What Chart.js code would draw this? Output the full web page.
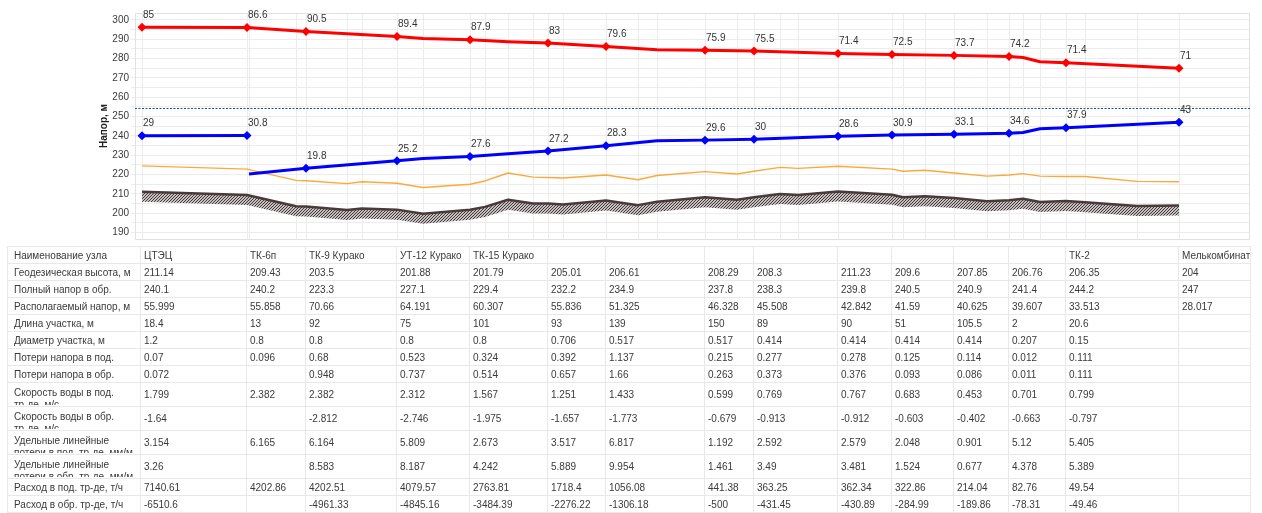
<!DOCTYPE html>
<html lang="ru">
<head>
<meta charset="utf-8">
<title>Пьезометрический график</title>
<script src="https://cdn.jsdelivr.net/npm/chart.js@4.4.1/dist/chart.umd.min.js"></script>
<style>
  html, body { margin: 0; padding: 0; background: #fff; }
  body { width: 1262px; height: 513px; overflow: hidden; position: relative; font-family: 'Liberation Sans', Arial, sans-serif; }
  #chart-wrap { position: absolute; left: 0; top: 0; width: 1262px; height: 247px; }
  #piezo-table { position: absolute; left: 7px; top: 246px; border-collapse: collapse; table-layout: fixed; font-size: 10px; color: #3a3a3a; }
  #piezo-table td { border: 1px solid #e8e8e8; padding: 0 0 0 3px; height: 16px; white-space: nowrap; overflow: hidden; vertical-align: middle; }
  #piezo-table td.label { padding-left: 6px; }
  #piezo-table tr.tall td { height: 23px; }
  #piezo-table tr.tall td.label .clip { height: 21px; overflow: hidden; white-space: normal; line-height: 12px; padding-top: 3px; box-sizing: border-box; }
</style>
</head>
<body>
<div id="chart-wrap"><canvas id="piezo" width="1262" height="247"></canvas></div>
<table id="piezo-table"><colgroup id="cols"></colgroup><tbody id="rows"></tbody></table>
<script>
// node positions along the route (first node = 0)
const nodePos = [0, 105, 164, 255, 328, 406, 464, 563, 612, 696, 750, 812, 867, 924, 1037];
const nodeNames = ['ЦТЭЦ', 'ТК-6п', 'ТК-9 Курако', 'УТ-12 Курако', 'ТК-15 Курако', '', '', '', '', '', '', '', '', 'ТК-2', 'Мелькомбинат'];

// pressure labels above the markers, m
const supplyPressure = [85, 86.6, 90.5, 89.4, 87.9, 83, 79.6, 75.9, 75.5, 71.4, 72.5, 73.7, 74.2, 71.4, 71];
const returnPressure = [29, 30.8, 19.8, 25.2, 27.6, 27.2, 28.3, 29.6, 30, 28.6, 30.9, 33.1, 34.6, 37.9, 43];

// full head in supply pipe
const supplyPos = [0, 105, 164, 255, 281, 328, 366, 406, 464, 515, 563, 612, 696, 750, 812, 867, 881, 898, 924, 1037];
const supplyHead = [296.1, 296.0, 294.0, 291.3, 290.3, 289.7, 288.7, 288.0, 286.2, 284.5, 284.2, 283.8, 282.6, 282.1, 281.6, 281.0, 280.5, 278.3, 277.8, 275.0];

// full head in return pipe (gap after ТК-6п)
const returnPos = [0, 105, 106, 107, 164, 255, 281, 328, 366, 406, 464, 515, 563, 612, 696, 750, 812, 867, 881, 898, 924, 1037];
const returnHeadLine = [240.1, 240.2, null, 220.3, 223.3, 227.1, 228.3, 229.4, 230.7, 232.2, 234.9, 237.5, 237.8, 238.3, 239.8, 240.5, 240.9, 241.4, 241.7, 243.7, 244.2, 247];

// ground profile and building tops
const groundPos = [0, 105, 154, 164, 205, 220, 255, 281, 328, 343, 366, 391, 406, 421, 464, 496, 515, 563, 595, 612, 638, 656, 696, 750, 761, 783, 812, 845, 867, 881, 898, 924, 943, 995, 1037];
const groundLevel = [211.14, 209.43, 203.6, 203.5, 201.7, 202.5, 201.88, 199.7, 201.79, 203.3, 207.0, 205.0, 205.01, 204.5, 206.61, 204.2, 206.0, 208.29, 207.0, 208.3, 210.0, 209.5, 211.23, 209.6, 208.3, 208.8, 207.85, 206.2, 206.76, 207.5, 205.8, 206.35, 205.7, 203.8, 204];
const buildingLevel = [224.5, 222.8, 217.0, 216.8, 215.3, 216.3, 215.5, 213.3, 215.0, 216.7, 220.8, 218.7, 218.5, 218.2, 219.8, 217.3, 219.5, 221.5, 220.3, 221.7, 223.7, 223.2, 224.3, 222.8, 221.7, 222.2, 220.8, 219.2, 219.8, 220.5, 219.2, 219.0, 219.0, 216.5, 216.3];

const staticHead = 254.5;
const headTicks = [190, 200, 210, 220, 230, 240, 250, 260, 270, 280, 290, 300];

// table rows
const geoHeight = [211.14, 209.43, 203.5, 201.88, 201.79, 205.01, 206.61, 208.29, 208.3, 211.23, 209.6, 207.85, 206.76, 206.35, 204];
const returnHead = [240.1, 240.2, 223.3, 227.1, 229.4, 232.2, 234.9, 237.8, 238.3, 239.8, 240.5, 240.9, 241.4, 244.2, 247];
const availHead = [55.999, 55.858, 70.66, 64.191, 60.307, 55.836, 51.325, 46.328, 45.508, 42.842, 41.59, 40.625, 39.607, 33.513, 28.017];
const sectionLength = [18.4, 13, 92, 75, 101, 93, 139, 150, 89, 90, 51, 105.5, 2, 20.6, null];
const sectionDiam = [1.2, 0.8, 0.8, 0.8, 0.8, 0.706, 0.517, 0.517, 0.414, 0.414, 0.414, 0.414, 0.207, 0.15, null];
const lossSupply = [0.07, 0.096, 0.68, 0.523, 0.324, 0.392, 1.137, 0.215, 0.277, 0.278, 0.125, 0.114, 0.012, 0.111, null];
const lossReturn = [0.072, null, 0.948, 0.737, 0.514, 0.657, 1.66, 0.263, 0.373, 0.376, 0.093, 0.086, 0.011, 0.111, null];
const velSupply = [1.799, 2.382, 2.382, 2.312, 1.567, 1.251, 1.433, 0.599, 0.769, 0.767, 0.683, 0.453, 0.701, 0.799, null];
const velReturn = [-1.64, null, -2.812, -2.746, -1.975, -1.657, -1.773, -0.679, -0.913, -0.912, -0.603, -0.402, -0.663, -0.797, null];
const specLossSupply = [3.154, 6.165, 6.164, 5.809, 2.673, 3.517, 6.817, 1.192, 2.592, 2.579, 2.048, 0.901, 5.12, 5.405, null];
const specLossReturn = [3.26, null, 8.583, 8.187, 4.242, 5.889, 9.954, 1.461, 3.49, 3.481, 1.524, 0.677, 4.378, 5.389, null];
const flowSupply = [7140.61, 4202.86, 4202.51, 4079.57, 2763.81, 1718.4, 1056.08, 441.38, 363.25, 362.34, 322.86, 214.04, 82.76, 49.54, null];
const flowReturn = [-6510.6, null, -4961.33, -4845.16, -3484.39, -2276.22, -1306.18, -500, -431.45, -430.89, -284.99, -189.86, -78.31, -49.46, null];

const toPoints = (xs, ys) => xs.map((x, i) => ({ x, y: ys[i] }));
const isNode = (ctx) => ctx.raw && ctx.raw.y !== null && nodePos.includes(ctx.raw.x);
const FONT = '"Liberation Sans", Arial, sans-serif';

const gridPos = Array.from(new Set([...groundPos, ...supplyPos, ...returnPos.filter((x, i) => returnHeadLine[i] !== null)])).sort((a, b) => a - b);

const hatchPlugin = {
  id: 'groundHatch',
  beforeDatasetsDraw(chart) {
    const pts = chart.getDatasetMeta(2).data;
    if (!pts.length) return;
    const { ctx, chartArea } = chart;
    const h = chartArea.bottom - chartArea.top;
    ctx.save();
    ctx.beginPath();
    ctx.rect(chartArea.left, chartArea.top, chartArea.width, chartArea.height);
    ctx.clip();
    ctx.beginPath();
    pts.forEach((p, i) => (i ? ctx.lineTo(p.x, p.y) : ctx.moveTo(p.x, p.y)));
    for (let i = pts.length - 1; i >= 0; i--) ctx.lineTo(pts[i].x, pts[i].y + 10);
    ctx.closePath();
    ctx.clip();
    ctx.strokeStyle = '#3e3030';
    ctx.lineWidth = 1.1;
    ctx.beginPath();
    for (let x = pts[0].x - h; x < pts[pts.length - 1].x + 4; x += 3) {
      ctx.moveTo(x, chartArea.bottom);
      ctx.lineTo(x + h, chartArea.top);
    }
    ctx.stroke();
    ctx.restore();
  }
};

const framePlugin = {
  id: 'frameAndStatic',
  beforeDatasetsDraw(chart) {
    const { ctx, chartArea, scales } = chart;
    ctx.save();
    ctx.strokeStyle = '#e2e2e2';
    ctx.lineWidth = 1;
    ctx.strokeRect(chartArea.left + 0.5, chartArea.top + 0.5, chartArea.width - 1, chartArea.height);
    const y = Math.round(scales.y.getPixelForValue(staticHead)) + 0.5;
    ctx.strokeStyle = '#1d4f93';
    ctx.setLineDash([2, 1.5]);
    ctx.beginPath();
    ctx.moveTo(chartArea.left, y);
    ctx.lineTo(chartArea.right, y);
    ctx.stroke();
    ctx.restore();
  }
};

const labelPlugin = {
  id: 'pressureLabels',
  afterDatasetsDraw(chart) {
    const { ctx } = chart;
    ctx.save();
    ctx.font = '10px ' + FONT;
    ctx.fillStyle = '#333';
    ctx.textAlign = 'left';
    ctx.textBaseline = 'middle';
    [[0, supplyPressure], [1, returnPressure]].forEach(([idx, labels]) => {
      const meta = chart.getDatasetMeta(idx);
      const data = chart.data.datasets[idx].data;
      nodePos.forEach((pos, i) => {
        const k = data.findIndex((d) => d.x === pos && d.y !== null);
        if (k < 0) return;
        const el = meta.data[k];
        ctx.fillText(String(labels[i]), el.x + 1, el.y - 12);
      });
    });
    ctx.restore();
  }
};

const chart = new Chart(document.getElementById('piezo'), {
  type: 'line',
  data: {
    datasets: [
      {
        label: 'Полный напор в под.',
        data: toPoints(supplyPos, supplyHead),
        borderColor: '#ff0000',
        backgroundColor: '#ff0000',
        borderWidth: 3,
        pointStyle: 'rectRot',
        pointRadius: (ctx) => (isNode(ctx) ? 4.5 : 0),
        pointBorderWidth: 0
      },
      {
        label: 'Полный напор в обр.',
        data: toPoints(returnPos, returnHeadLine),
        borderColor: '#0000ff',
        backgroundColor: '#0000ff',
        borderWidth: 3,
        pointStyle: 'rectRot',
        pointRadius: (ctx) => (isNode(ctx) && ctx.raw.x !== 107 ? 4.5 : 0),
        pointBorderWidth: 0,
        spanGaps: false
      },
      {
        label: 'Геодезическая высота',
        data: toPoints(groundPos, groundLevel),
        borderColor: '#4a3a3a',
        borderWidth: 2.5,
        pointRadius: 0
      },
      {
        label: 'Высота зданий',
        data: toPoints(groundPos, buildingLevel),
        borderColor: '#ffa83a',
        borderWidth: 1.4,
        pointRadius: 0
      }
    ]
  },
  options: {
    responsive: false,
    animation: false,
    events: [],
    layout: { padding: { left: 98, right: 12, top: 13, bottom: 0 } },
    plugins: { legend: { display: false }, tooltip: { enabled: false } },
    elements: { line: { tension: 0, borderJoinStyle: 'round', borderCapStyle: 'butt' } },
    scales: {
      x: {
        type: 'linear',
        min: -7,
        max: 1108,
        afterBuildTicks: (scale) => { scale.ticks = gridPos.map((value) => ({ value })); },
        ticks: { display: false },
        grid: { color: '#ececec', drawTicks: false },
        border: { display: false }
      },
      y: {
        min: 186.7,
        max: 303.5,
        afterBuildTicks: (scale) => {
          const t = [];
          headTicks.forEach((v) => { t.push({ value: v }); if (v < 300) t.push({ value: v + 5 }); });
          scale.ticks = t;
        },
        afterFit: (scale) => { scale.width = 37; },
        ticks: {
          autoSkip: false,
          padding: 2,
          color: '#3a3a3a',
          font: { family: FONT, size: 10 },
          callback: (v) => (headTicks.includes(v) ? String(v) : '')
        },
        grid: { color: '#ececec', tickLength: 4 },
        border: { display: false },
        title: {
          display: true,
          text: 'Напор, м',
          color: '#222',
          font: { family: FONT, size: 10, weight: 'bold' },
          padding: { top: 0, bottom: 0 }
        }
      }
    }
  },
  plugins: [framePlugin, hatchPlugin, labelPlugin]
});

// table aligned with the node positions of the chart
const rowsDef = [
  ['Наименование узла', nodeNames, false],
  ['Геодезическая высота, м', geoHeight, false],
  ['Полный напор в обр.', returnHead, false],
  ['Располагаемый напор, м', availHead, false],
  ['Длина участка, м', sectionLength, false],
  ['Диаметр участка, м', sectionDiam, false],
  ['Потери напора в под.', lossSupply, false],
  ['Потери напора в обр.', lossReturn, false],
  ['Скорость воды в под.<br>тр-де, м/с', velSupply, true],
  ['Скорость воды в обр.<br>тр-де, м/с', velReturn, true],
  ['Удельные линейные<br>потери в под. тр-де, мм/м', specLossSupply, true],
  ['Удельные линейные<br>потери в обр. тр-де, мм/м', specLossReturn, true],
  ['Расход в под. тр-де, т/ч', flowSupply, false],
  ['Расход в обр. тр-де, т/ч', flowReturn, false]
];

const xs = chart.scales.x;
const edges = [7];
nodePos.forEach((p, i) => edges.push(Math.round(xs.getPixelForValue(p)) - (i === 0 ? 2 : 1)));
edges.push(Math.round(chart.chartArea.right));
const cols = document.getElementById('cols');
for (let i = 0; i < edges.length - 1; i++) {
  const c = document.createElement('col');
  c.style.width = (edges[i + 1] - edges[i]) + 'px';
  cols.appendChild(c);
}
const table = document.getElementById('piezo-table');
table.style.width = (edges[edges.length - 1] - edges[0]) + 'px';

const tbody = document.getElementById('rows');
rowsDef.forEach(([label, values, tall]) => {
  const tr = document.createElement('tr');
  if (tall) tr.className = 'tall';
  const th = document.createElement('td');
  th.className = 'label';
  th.innerHTML = tall ? '<div class="clip">' + label + '</div>' : label;
  tr.appendChild(th);
  values.forEach((v) => {
    const td = document.createElement('td');
    td.textContent = v === null || v === '' ? '' : String(v);
    tr.appendChild(td);
  });
  tbody.appendChild(tr);
});

// squeeze text that does not fit its cell (e.g. long node names)
tbody.querySelectorAll('td').forEach((td) => {
  if (td.scrollWidth > td.clientWidth) {
    td.style.letterSpacing = '-0.4px';
    td.style.paddingLeft = '2px';
  }
});
</script>
</body>
</html>
